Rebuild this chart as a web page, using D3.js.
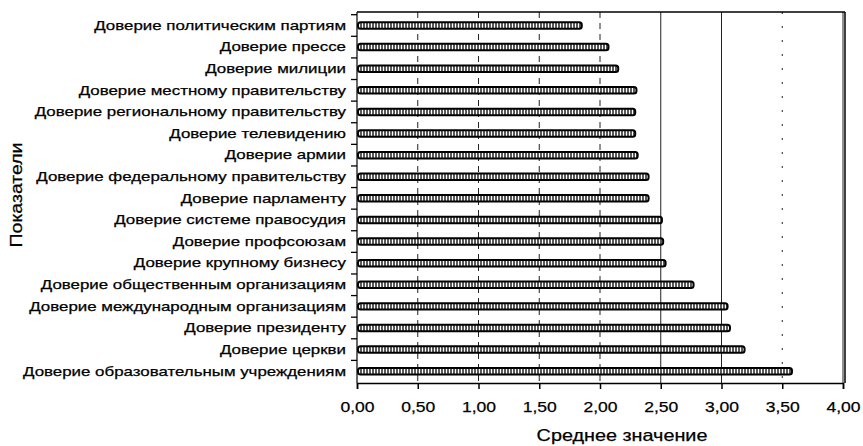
<!DOCTYPE html>
<html><head><meta charset="utf-8">
<script src="https://cdn.jsdelivr.net/npm/d3@7/dist/d3.min.js"></script>
<style>body{margin:0;background:#fff}svg{display:block}text{font-family:"Liberation Sans",Arial,sans-serif;fill:#000}</style>
</head><body><svg id="c" width="863" height="446"></svg>
<script>
const categories = [
  "Доверие политическим партиям",
  "Доверие прессе",
  "Доверие милиции",
  "Доверие местному  правительству",
  "Доверие региональному правительству",
  "Доверие телевидению",
  "Доверие армии",
  "Доверие федеральному правительству",
  "Доверие парламенту",
  "Доверие системе правосудия",
  "Доверие профсоюзам",
  "Доверие крупному бизнесу",
  "Доверие общественным организациям",
  "Доверие международным организациям",
  "Доверие президенту",
  "Доверие церкви",
  "Доверие образовательным учреждениям"
];
const values = [1.85, 2.07, 2.15, 2.30, 2.29, 2.29, 2.31, 2.40, 2.40, 2.51, 2.52, 2.54, 2.77, 3.05, 3.07, 3.19, 3.58];
const xTicks = [0, 0.5, 1, 1.5, 2, 2.5, 3, 3.5, 4];
const xTitle = "Среднее значение";
const yTitle = "Показатели";

const svg = d3.select("#c");
const L = 357, R = 845, T = 12, B = 383;
const x = d3.scaleLinear().domain([0, 4]).range([L, 843]);
const y = d3.scaleBand().domain(categories).range([14.7, 382]).paddingInner(0.7).paddingOuter(0.35);

function stretch(sel, k) {
  sel.each(function () {
    const len = this.getComputedTextLength();
    d3.select(this).attr("textLength", len * k).attr("lengthAdjust", "spacingAndGlyphs");
  });
}

// hatch pattern
const defs = svg.append("defs");
const pat = defs.append("pattern").attr("id", "hatch").attr("patternUnits", "userSpaceOnUse")
  .attr("width", 3).attr("height", 4);
pat.append("rect").attr("width", 3).attr("height", 4).attr("fill", "#fff");
pat.append("line").attr("x1", 1).attr("x2", 1).attr("y1", 0).attr("y2", 4)
  .attr("stroke", "#000").attr("stroke-width", 1.3);

// gridlines
svg.append("g").selectAll("line").data(xTicks.filter(d => d > 0)).join("line")
  .attr("x1", d => x(d)).attr("x2", d => x(d)).attr("y1", T).attr("y2", B)
  .attr("stroke", "#222").attr("stroke-width", 1)
  .attr("stroke-dasharray", d => d >= 2.5 && d <= 3 ? null : (d === 4 ? null : (d === 3.5 ? "2,12" : "6,5")));

// frame
svg.append("line").attr("x1", L).attr("x2", R).attr("y1", T).attr("y2", T).attr("stroke", "#000").attr("stroke-width", 1.5);
svg.append("line").attr("x1", R).attr("x2", R).attr("y1", T).attr("y2", B).attr("stroke", "#000").attr("stroke-width", 1.5);

// bars
svg.append("g").selectAll("rect").data(values).join("rect")
  .attr("x", x(0) + 1)
  .attr("y", (d, i) => y(categories[i]))
  .attr("width", d => x(d) - x(0) - 1)
  .attr("height", y.bandwidth())
  .attr("rx", 2.5)
  .attr("fill", "url(#hatch)")
  .attr("stroke", "#000").attr("stroke-width", 2);

// x axis
const xAxis = d3.axisBottom(x).tickValues(xTicks).tickSize(6)
  .tickFormat(d => d3.format(".2f")(d).replace(".", ","));
const gx = svg.append("g").attr("transform", `translate(0,${B})`).call(xAxis);
gx.select(".domain").attr("stroke", "#000").attr("stroke-width", 1.5);
gx.selectAll(".tick line").attr("stroke", "#000").attr("stroke-width", 1.5);
gx.selectAll("text").attr("font-size", 15.5).attr("dy", "0.71em").attr("y", 18)
  .attr("stroke", "#000").attr("stroke-width", 0.25);
stretch(gx.selectAll("text"), 1.13);

// y axis
const yAxis = d3.axisLeft(y).tickSize(0).tickPadding(11);
const gy = svg.append("g").attr("transform", `translate(${L},0)`).call(yAxis);
gy.select(".domain").attr("stroke", "#000").attr("stroke-width", 1.2).attr("d", `M0,${T}V${B}`);
gy.selectAll("text").attr("font-size", 13.5).attr("stroke", "#000").attr("stroke-width", 0.25);
stretch(gy.selectAll("text"), 1.25);
// category separator ticks
const bounds = categories.map(c => y(c) - y.step() * y.paddingInner() / 2);
svg.append("g").selectAll("line").data(bounds).join("line")
  .attr("x1", L - 6).attr("x2", L).attr("y1", d => d).attr("y2", d => d)
  .attr("stroke", "#000").attr("stroke-width", 1.3);

// titles
const xt = svg.append("text").attr("x", 622).attr("y", 441).attr("text-anchor", "middle")
  .attr("font-size", 16.5).attr("stroke", "#000").attr("stroke-width", 0.25).text(xTitle);
stretch(xt, 1.2);
const yt = svg.append("text").attr("transform", "translate(22,195) rotate(-90)").attr("text-anchor", "middle")
  .attr("font-size", 16.5).attr("stroke", "#000").attr("stroke-width", 0.25).text(yTitle);
stretch(yt, 1.18);
</script></body></html>
